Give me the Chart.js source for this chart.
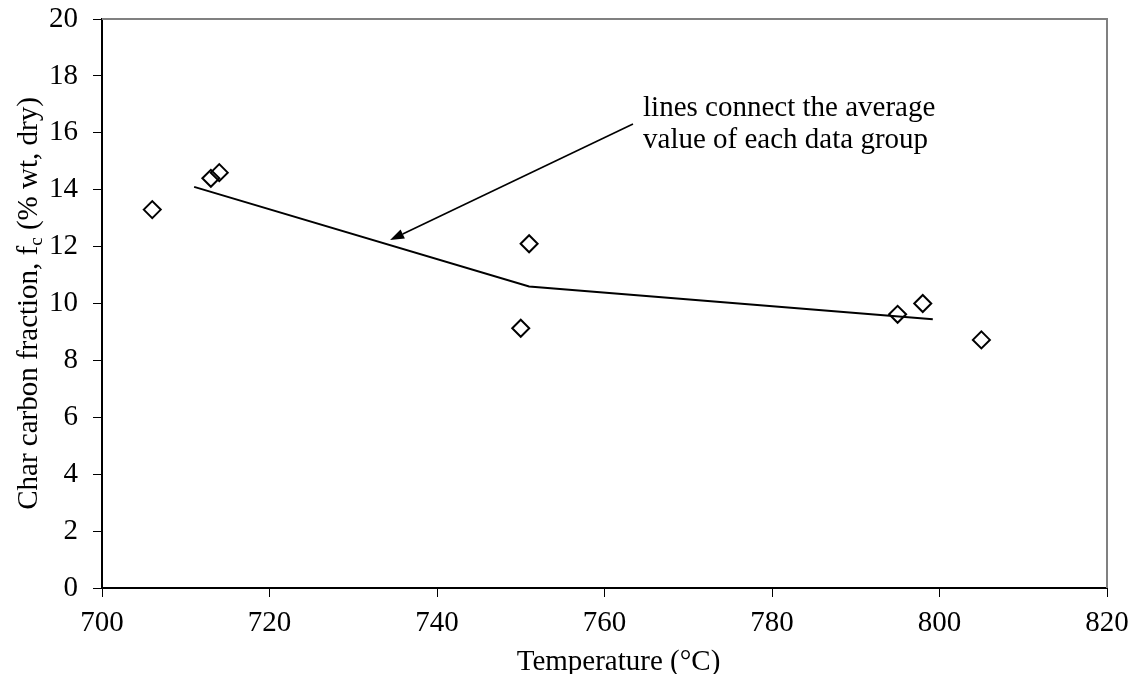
<!DOCTYPE html>
<html>
<head>
<meta charset="utf-8">
<title>Char carbon fraction vs temperature</title>
<script src="https://cdn.jsdelivr.net/npm/chart.js@4.4.1/dist/chart.umd.min.js"></script>
<style>
  html, body { margin: 0; padding: 0; background: #fff; }
  #wrap { width: 1135px; height: 674px; }
</style>
</head>
<body>
<div id="wrap"><canvas id="chart_carbon" width="1135" height="674"></canvas></div>
<script>
// measured runs
const tempC = [706, 713, 714, 750, 751, 795, 798, 805];
const carbonPct = [13.3, 14.4, 14.6, 9.13, 12.1, 9.62, 10.0, 8.72];

// group averages (the solid line)
const avgTemp = [711, 751, 799.2];
const avgCarbon = [14.1, 10.6, 9.45];

const xTicks = [700, 720, 740, 760, 780, 800, 820];
const yTicks = [0, 2, 4, 6, 8, 10, 12, 14, 16, 18, 20];

const xTitle = "Temperature (°C)";
const yTitleParts = ["Char carbon fraction, f", "c", " (% wt, dry)"];
const noteLines = ["lines connect the average", "value of each data group"];
// note anchor and arrow, in data units: [x, y]
const noteAt = [764.6, 16.6];
const arrowFrom = [763.4, 16.31];
const arrowTo = [734.4, 12.23];

const FONT = "'Liberation Serif', 'Times New Roman', serif";
const FONT_SIZE = 29;

function toXY(data) {
  return data[0].map((x, i) => ({ x: x, y: data[1][i] }));
}

// gray frame on top and right, like the excel plot area
const framePlugin = {
  id: "frame",
  beforeDatasetsDraw(chart) {
    const ctx = chart.ctx;
    const a = chart.chartArea;
    ctx.save();
    ctx.strokeStyle = "#808080";
    ctx.lineWidth = 2;
    ctx.beginPath();
    ctx.moveTo(a.left, a.top);
    ctx.lineTo(a.right, a.top);
    ctx.lineTo(a.right, a.bottom);
    ctx.stroke();
    ctx.restore();
  }
};

// axis titles drawn by hand (the y one has a subscript)
const titlesPlugin = {
  id: "titles",
  afterDraw(chart) {
    const ctx = chart.ctx;
    const a = chart.chartArea;
    const big = FONT_SIZE + "px " + FONT;
    const small = "19px " + FONT;
    ctx.save();
    ctx.fillStyle = "#000";
    ctx.textBaseline = "alphabetic";

    // x title, sits a little right of centre in the original
    ctx.font = big;
    ctx.textAlign = "center";
    ctx.fillText(xTitle, (a.left + a.right) / 2 + 14, 670);

    ctx.textAlign = "left";
    const w1 = ctx.measureText(yTitleParts[0]).width;
    const w3 = ctx.measureText(yTitleParts[2]).width;
    ctx.font = small;
    const w2 = ctx.measureText(yTitleParts[1]).width;
    ctx.translate(37, (a.top + a.bottom) / 2);
    ctx.rotate(-Math.PI / 2);
    let x = -(w1 + w2 + w3) / 2;
    ctx.font = big;
    ctx.fillText(yTitleParts[0], x, 0);
    x += w1;
    ctx.font = small;
    ctx.fillText(yTitleParts[1], x, 5);
    x += w2;
    ctx.font = big;
    ctx.fillText(yTitleParts[2], x, 0);
    ctx.restore();
  }
};

// the note and its arrow
const notePlugin = {
  id: "note",
  afterDatasetsDraw(chart) {
    const ctx = chart.ctx;
    const sx = chart.scales.x, sy = chart.scales.y;
    const tx = sx.getPixelForValue(noteAt[0]);
    const ty = sy.getPixelForValue(noteAt[1]);
    ctx.save();
    ctx.fillStyle = "#000";
    ctx.font = FONT_SIZE + "px " + FONT;
    ctx.textBaseline = "alphabetic";
    ctx.textAlign = "left";
    noteLines.forEach((t, i) => ctx.fillText(t, tx, ty + i * 32.5));

    const x0 = sx.getPixelForValue(arrowFrom[0]), y0 = sy.getPixelForValue(arrowFrom[1]);
    const x1 = sx.getPixelForValue(arrowTo[0]), y1 = sy.getPixelForValue(arrowTo[1]);
    const ang = Math.atan2(y1 - y0, x1 - x0);
    const head = 14, half = 5;
    const bx = x1 - Math.cos(ang) * head, by = y1 - Math.sin(ang) * head;
    ctx.strokeStyle = "#000";
    ctx.lineWidth = 1.6;
    ctx.beginPath();
    ctx.moveTo(x0, y0);
    ctx.lineTo(bx, by);
    ctx.stroke();
    ctx.beginPath();
    ctx.moveTo(x1, y1);
    ctx.lineTo(bx + Math.sin(ang) * half, by - Math.cos(ang) * half);
    ctx.lineTo(bx - Math.sin(ang) * half, by + Math.cos(ang) * half);
    ctx.closePath();
    ctx.fill();
    ctx.restore();
  }
};

const tickFont = { family: FONT, size: FONT_SIZE };

new Chart(document.getElementById("chart_carbon"), {
  type: "scatter",
  data: {
    datasets: [
      {
        label: "Average",
        data: toXY([avgTemp, avgCarbon]),
        showLine: true,
        borderColor: "#000",
        borderWidth: 2,
        pointRadius: 0,
        tension: 0
      },
      {
        label: "Runs",
        data: toXY([tempC, carbonPct]),
        pointStyle: "rectRot",
        pointRadius: 8.5,
        pointBorderWidth: 2,
        borderColor: "#000",
        backgroundColor: "rgba(0,0,0,0)"
      }
    ]
  },
  options: {
    responsive: false,
    animation: false,
    devicePixelRatio: 1,
    layout: { padding: { top: 19, right: 28, left: 0, bottom: 0 } },
    plugins: {
      legend: { display: false },
      tooltip: { enabled: false }
    },
    scales: {
      x: {
        type: "linear",
        min: 700,
        max: 820,
        afterBuildTicks: (s) => { s.ticks = xTicks.map((v) => ({ value: v })); },
        afterFit: (s) => {
          s.height = 86;
          s.paddingLeft = 0;
          s.paddingRight = 0;
        },
        ticks: { font: tickFont, color: "#000", padding: 9, maxRotation: 0 },
        grid: { drawOnChartArea: false, tickLength: 9, color: "#000", lineWidth: 1 },
        border: { color: "#000", width: 2 }
      },
      y: {
        min: 0,
        max: 20,
        afterBuildTicks: (s) => { s.ticks = yTicks.map((v) => ({ value: v })); },
        afterFit: (s) => {
          s.width = 102;
          s.paddingTop = 0;
          s.paddingBottom = 0;
        },
        ticks: { font: tickFont, color: "#000", padding: 15 },
        grid: { drawOnChartArea: false, tickLength: 9, color: "#000", lineWidth: 1 },
        border: { color: "#000", width: 2 }
      }
    }
  },
  plugins: [framePlugin, titlesPlugin, notePlugin]
});
</script>
</body>
</html>
